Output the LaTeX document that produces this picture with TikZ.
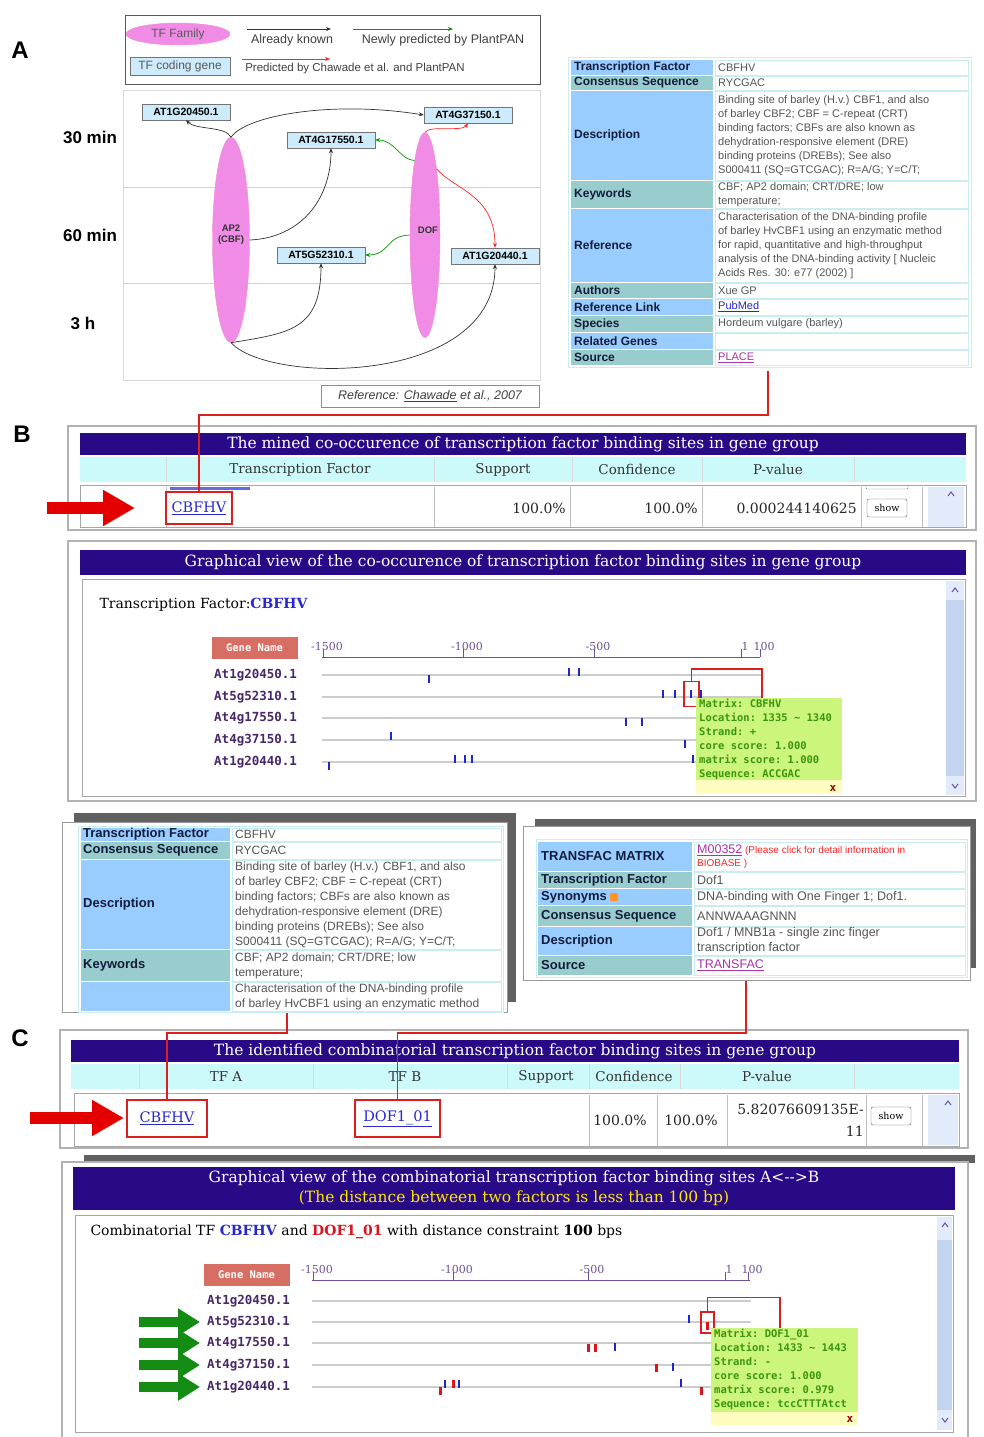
\documentclass[tikz,border=0pt]{standalone}
\usepackage{fontspec}
\setmainfont{DejaVu Serif}
\setsansfont{Liberation Sans}
\setmonofont{DejaVu Sans Mono}
\usetikzlibrary{positioning,calc,arrows.meta,shapes.geometric}
\newcommand{\pxfont}[2]{\fontsize{#1}{#2}\selectfont}
\newcommand{\upchev}[2]{\draw[navy!70, line width=1pt] (#1-3,#2+2) -- (#1,#2-2) -- (#1+3,#2+2);}
\newcommand{\downchev}[2]{\draw[navy!70, line width=1pt] (#1-3,#2-2) -- (#1,#2+2) -- (#1+3,#2-2);}
\definecolor{navy}{RGB}{40,10,135}
\definecolor{hdrcyan}{RGB}{204,250,250}
\definecolor{lblblue}{RGB}{153,204,255}
\definecolor{lblteal}{RGB}{153,204,204}
\definecolor{cellline}{RGB}{200,238,242}
\definecolor{lbltext}{RGB}{20,28,60}
\definecolor{valtext}{RGB}{85,85,85}
\definecolor{linkblue}{RGB}{40,40,210}
\definecolor{linkpurple}{RGB}{170,50,170}
\definecolor{salmon}{RGB}{214,110,100}
\definecolor{popgreen}{RGB}{204,245,125}
\definecolor{popgrn}{RGB}{60,150,10}
\definecolor{genepurple}{RGB}{72,40,105}
\definecolor{axispurple}{RGB}{110,80,150}
\definecolor{tfpink}{RGB}{240,140,230}
\definecolor{genecyan}{RGB}{205,235,250}
\definecolor{arrgreen}{RGB}{20,140,20}
\definecolor{redline}{RGB}{220,30,30}
\definecolor{tickblue}{RGB}{30,40,200}
\definecolor{tickred}{RGB}{220,20,30}
\definecolor{scrollbg}{RGB}{225,235,250}
\definecolor{scrollthumb}{RGB}{195,212,240}
\tikzset{panellbl/.style={font=\sffamily\bfseries\pxfont{24}{24}}}
\tikzset{timelbl/.style={font=\sffamily\bfseries\pxfont{17}{17}}}
\tikzset{legtxt/.style={font=\sffamily\pxfont{12.5}{13}, text=black!75}}
\tikzset{tffam/.style={ellipse, fill=tfpink, draw=magenta!45, inner sep=0pt}}
\tikzset{fam/.style={font=\sffamily\bfseries\pxfont{9.5}{11}, align=center, text=black!80}}
\tikzset{genebox/.style={draw=black!55, fill=genecyan, font=\sffamily\bfseries\pxfont{10.5}{11}, inner sep=1pt, minimum width=88, minimum height=16}}
\tikzset{known/.style={draw=black!80, line width=0.7pt, -{Stealth[length=5pt,width=4pt]}}}
\tikzset{newpred/.style={known, draw=green!60!black}}
\tikzset{bothpred/.style={known, draw=red!85}}
\tikzset{lbl/.style={anchor=west, inner sep=0pt, font=\sffamily\bfseries\pxfont{12}{12}, text=lbltext}}
\tikzset{val/.style={anchor=west, inner sep=0pt, align=left, font=\sffamily\pxfont{11}{14}, text=valtext}}
\tikzset{frm/.style={draw=black!30, line width=1.2pt}}
\tikzset{hdrtxt/.style={text=white, font=\pxfont{15.5}{20}, align=center}}
\tikzset{colhdr/.style={font=\pxfont{13.5}{14}, text=black!80}}
\tikzset{datatxt/.style={font=\pxfont{14}{15}, text=black!85, inner sep=0pt}}
\tikzset{tflink/.style={font=\pxfont{14.5}{15}, text=linkblue}}
\tikzset{redlink/.style={draw=redline, line width=1.2pt}}
\tikzset{redbox/.style={draw=redline, line width=1.2pt, inner sep=0pt}}
\tikzset{showbtn/.style={draw=black!65, rounded corners=2pt, fill=white, font=\pxfont{9.5}{10}, minimum width=40, minimum height=18, inner sep=0pt}}
\tikzset{namebox/.style={fill=salmon, text=white, font=\ttfamily\bfseries\pxfont{10.5}{11}, minimum width=86, minimum height=22, inner sep=0pt}}
\tikzset{genename/.style={anchor=west, inner sep=0pt, font=\ttfamily\bfseries\pxfont{12.5}{13}, text=genepurple}}
\tikzset{geneline/.style={draw=black!20, line width=2pt}}
\tikzset{axisline/.style={draw=axispurple, line width=1pt}}
\tikzset{axistxt/.style={font=\pxfont{11}{11}, text=axispurple, inner sep=0pt}}
\tikzset{popbox/.style={fill=popgreen, inner sep=0pt}}
\tikzset{poptxt/.style={anchor=north west, align=left, inner sep=0pt, font=\ttfamily\bfseries\pxfont{10.5}{14}, text=popgrn}}
\tikzset{closex/.style={font=\ttfamily\bfseries\pxfont{11}{11}, text=red!60!black, inner sep=0pt}}
\tikzset{fatred/.style={draw=red!90!black, line width=12pt, -{Triangle[length=32pt,width=34pt]}}}
\tikzset{fatgreen/.style={draw=arrgreen, line width=10pt, -{Triangle[length=22pt,width=26pt]}}}

\begin{document}
\begin{tikzpicture}[x=1pt,y=-1pt]
\useasboundingbox (0,0) rectangle (983,1437);
% ---------- panel A: legend
\node[panellbl] (labA) at (20,50) {A};
\draw[black!65, fill=white] (125,15) rectangle (540,84);
\node[tffam, minimum width=104, minimum height=22, font=\sffamily\pxfont{12}{12}, text=black!65] (legfam) at (178,34) {TF Family};
\node[genebox, minimum width=100, minimum height=18, font=\sffamily\pxfont{12}{12}, text=black!65] (leggene) at (180,66) {TF coding gene};
\coordinate (lk1) at (247,29); \coordinate (lk2) at (331,29);
\coordinate (lg1) at (353,29); \coordinate (lg2) at (453,29);
\coordinate (lr1) at (242,59); \coordinate (lr2) at (330,59);
\draw[known] (lk1) -- (lk2);
\draw[newpred] (lg1) -- (lg2);
\draw[bothpred] (lr1) -- (lr2);
\node[legtxt] (legknown) at (292,40) {Already known};
\node[legtxt] (legnew) at (443,40) {Newly predicted by PlantPAN};
\node[legtxt, font=\sffamily\pxfont{11.5}{12}] (legboth) at (355,69) {Predicted by Chawade et al. and PlantPAN};
% ---------- panel A: network
\draw[black!15, fill=white] (123,90) rectangle (540,380);
\draw[black!18] (123,187) -- (540,187) (123,283) -- (540,283);
\node[timelbl] (t30) at (90,137) {30 min};
\node[timelbl] (t60) at (90,235) {60 min};
\node[timelbl] (t3h) at (83,323) {3 h};
\node[tffam, minimum width=37, minimum height=205] (ap2) at (231,240) {};
\node[tffam, minimum width=30, minimum height=205] (dof) at (425,235) {};
\node[fam] (ap2lbl) at (231,235) {AP2\\(CBF)};
\node[fam] (doflbl) at (428,230) {DOF};
\node[genebox] (g20450) at (186,112) {AT1G20450.1};
\node[genebox] (g37150) at (468,115) {AT4G37150.1};
\node[genebox] (g17550) at (331,140) {AT4G17550.1};
\node[genebox] (g52310) at (321,255) {AT5G52310.1};
\node[genebox] (g20440) at (495,256) {AT1G20440.1};
%
\draw[known] (ap2.north) .. controls (226,126) and (196,130) .. (g20450.south);
\draw[known] (ap2.north) .. controls (245,116) and (330,100) .. (g37150.west);
\draw[known] (ap2.east) .. controls (300,238) and (331,200) .. (g17550.south);
\draw[known] (ap2.south) .. controls (290,333) and (321,330) .. (g52310.south);
\draw[known] (ap2.south) .. controls (270,385) and (495,385) .. (g20440.south);
\draw[newpred] (dof.98) .. controls (400,160) and (395,140) .. (g17550.east);
\draw[newpred] (dof.west) .. controls (385,236) and (390,255) .. (g52310.east);
\draw[bothpred] (dof.north) .. controls (430,125) and (462,132) .. (g37150.south);
\draw[bothpred] (dof.80) .. controls (455,190) and (495,195) .. (g20440.north);
\node[draw=black!45, minimum width=218, minimum height=22, font=\sffamily\itshape\pxfont{12.5}{13}, text=black!75] (refA) at (430,396) {Reference: \underline{Chawade} et al., 2007};
% ---------- panel A: matrix table
\draw[cellline, fill=white] (568,57) rectangle (971,367);
\foreach \ya/\yb/\col/\lab [count=\idx] in {60/75/lblblue/Transcription Factor, 76/90/lblteal/Consensus Sequence, 91/180/lblblue/Description, 181/208/lblteal/Keywords, 209/282/lblblue/Reference, 283/298/lblteal/Authors, 299/315/lblblue/Reference Link, 316/332/lblteal/Species, 333/349/lblblue/Related Genes, 350/365/lblteal/Source}
{
  \fill[\col] (571,\ya) rectangle (713,\yb);
  \draw[cellline] (715,\ya) rectangle (968,\yb);
  \node[lbl] (tA\idx) at (574,{(\ya+\yb)/2}) {\lab};
}
\node[val] (vA1) at (718,67.5) {CBFHV};
\node[val] (vA2) at (718,83) {RYCGAC};
\node[val] (vA3) at (718,135.5) {Binding site of barley (H.v.) CBF1, and also\\of barley CBF2; CBF = C-repeat (CRT)\\binding factors; CBFs are also known as\\dehydration-responsive element (DRE)\\binding proteins (DREBs); See also\\S000411 (SQ=GTCGAC); R=A/G; Y=C/T;};
\node[val] (vA4) at (718,194.5) {CBF; AP2 domain; CRT/DRE; low\\temperature;};
\node[val] (vA5) at (718,245.5) {Characterisation of the DNA-binding profile\\of barley HvCBF1 using an enzymatic method\\for rapid, quantitative and high-throughput\\analysis of the DNA-binding activity [ Nucleic\\Acids Res. 30: e77 (2002) ]};
\node[val] (vA6) at (718,290.5) {Xue GP};
\node[val, text=linkblue] (vA7) at (718,307) {\underline{PubMed}};
\node[val] (vA8) at (718,324) {Hordeum vulgare (barley)};
\node[val, text=linkpurple] (vA10) at (718,357.5) {\underline{PLACE}};
% ---------- panel B: table
\node[panellbl] (labB) at (22,434) {B};
\draw[frm] (68,426) rectangle (976,530);
\fill[navy] (80,433) rectangle (966,455);
\node[hdrtxt] (hdrB) at (523,444) {The mined co-occurence of transcription factor binding sites in gene group};
\fill[hdrcyan] (80,457) rectangle (966,482);
\foreach \x in {166,434,572,702,854} \draw[black!15] (\x,457) -- (\x,482);
\node[colhdr] (chB1) at (300,469.5) {Transcription Factor};
\node[colhdr] (chB2) at (503,469.5) {Support};
\node[colhdr] (chB3) at (637,469.5) {Confidence};
\node[colhdr] (chB4) at (778,469.5) {P-value};
\draw[black!35, fill=white] (80,485) rectangle (966,527);
\foreach \x in {166,434,570,702,861,922} \draw[black!25] (\x,487) -- (\x,527);
\fill[scrollbg] (928,487) rectangle (964,527);
\upchev{951}{494}
\fill[linkblue!70] (170,486.5) rectangle (250,489.5);
\draw[black!50, rounded corners=1pt] (866,485) -- (866,489) -- (908,489) -- (908,485);
\node[datatxt, anchor=east] (supB) at (566,508) {100.0\%};
\node[datatxt, anchor=east] (conB) at (698,508) {100.0\%};
\node[datatxt, anchor=east] (pvB) at (857,508) {0.000244140625};
\node[showbtn] (showB) at (887,508) {show};
\node[redbox, minimum width=66, minimum height=32, tflink] (cbfB) at (199,508) {\underline{CBFHV}};
\coordinate (arBt) at (47,508); \coordinate (arBh) at (135,508);
\draw[fatred] (arBt) -- (arBh);
\coordinate (srcA) at (768,371);
\draw[redlink] (srcA) -- ++(0,44) -| (cbfB.north);
% ---------- panel B: graphical view
\draw[frm] (68,541) rectangle (976,801);
\fill[navy] (80,550) rectangle (966,575);
\node[hdrtxt] (hdrBg) at (523,562) {Graphical view of the co-occurence of transcription factor binding sites in gene group};
\draw[black!35, fill=white] (82,579) rectangle (965,796);
\fill[scrollbg] (946,581) rectangle (964,795);
\fill[scrollthumb] (946,600) rectangle (964,776);
\upchev{955}{590} \downchev{955}{786}
\node[anchor=west, font=\pxfont{14}{15}] (tfB) at (96,605) {Transcription Factor:\textcolor{linkblue}{\textbf{CBFHV}}};
\node[namebox] (gnB) at (254.5,647.5) {Gene Name};
\coordinate (axB0) at (322,657); \coordinate (axB1) at (760,657);
\draw[axisline] (axB0) -- (axB1);
\foreach \x/\lb [count=\idx] in {323/-1500,463/-1000,594/-500,741/1,760/100}
{ \draw[axisline] (\x,649) -- (\x,657); \node[axistxt] (axlB\idx) at (\x+4,646) {\lb}; }
\foreach \gn/\y [count=\idx] in {At1g20450.1/675, At5g52310.1/697, At4g17550.1/718, At4g37150.1/740, At1g20440.1/762}
{ \draw[geneline] (322,\y) -- (763,\y); \node[genename] (gB\idx) at (214,\y) {\gn}; }
\foreach \x/\y in {429/679, 569/672, 579/672, 663/694, 675/694, 691/694, 701/694, 626/722, 642/722, 391/736, 685/744, 329/766, 455/759, 465/759, 472/759, 693/759}
  \fill[tickblue] (\x-1.2,\y-4) rectangle (\x+1.2,\y+4);
\node[redbox, minimum width=15, minimum height=25] (siteB) at (691.5,694) {};
\node[popbox, minimum width=146, minimum height=95, anchor=north west] (popB) at (696,698) {};
\fill[yellow!25] ($(popB.south west)+(0,-13)$) rectangle (popB.south east);
\node[poptxt] (txtB) at (699,699) {Matrix: CBFHV\\Location: 1335 \textasciitilde{} 1340\\Strand: +\\core score: 1.000\\matrix score: 1.000\\Sequence: ACCGAC};
\node[closex] (xB) at (833,788) {x};
\draw[redlink] (siteB.north) -- ++(0,-12) -| ($(popB.north west)+(66,0)$);
% ---------- panel C: detail tables
\fill[black!62] (74,813) rectangle (516,1002);
\draw[black!40, fill=white] (62,822) rectangle (507,1012);
\draw[cellline] (78,826) rectangle (503,1012);
\foreach \ya/\yb/\col/\lab [count=\idx] in {828/841/lblblue/Transcription Factor, 842/859/lblteal/Consensus Sequence, 860/949/lblblue/Description, 950/981/lblteal/Keywords, 982/1011/lblblue/{}}
{
  \fill[\col] (81,\ya) rectangle (230,\yb);
  \draw[cellline] (232,\ya) rectangle (501,\yb);
  \node[lbl, font=\sffamily\bfseries\pxfont{13}{13}] (tL\idx) at (83,{(\ya+\yb)/2}) {\lab};
}
\node[val, font=\sffamily\pxfont{12}{15}] (vL1) at (235,834.5) {CBFHV};
\node[val, font=\sffamily\pxfont{12}{15}] (vL2) at (235,850.5) {RYCGAC};
\node[val, font=\sffamily\pxfont{12}{15}] (vL3) at (235,904.5) {Binding site of barley (H.v.) CBF1, and also\\of barley CBF2; CBF = C-repeat (CRT)\\binding factors; CBFs are also known as\\dehydration-responsive element (DRE)\\binding proteins (DREBs); See also\\S000411 (SQ=GTCGAC); R=A/G; Y=C/T;};
\node[val, font=\sffamily\pxfont{12}{15}] (vL4) at (235,965.5) {CBF; AP2 domain; CRT/DRE; low\\temperature;};
\node[val, font=\sffamily\pxfont{12}{15}] (vL5) at (235,997) {Characterisation of the DNA-binding profile\\of barley HvCBF1 using an enzymatic method};
%
\fill[black!62] (535,819) rectangle (976,968);
\draw[black!40, fill=white] (523,826) rectangle (970,980);
\draw[cellline] (536,839) rectangle (967,977);
\foreach \ya/\yb/\col/\lab [count=\idx] in {842/871/lblblue/TRANSFAC MATRIX, 872/888/lblteal/Transcription Factor, 889/905/lblblue/Synonyms, 906/926/lblteal/Consensus Sequence, 927/955/lblblue/Description, 956/975/lblteal/Source}
{
  \fill[\col] (538,\ya) rectangle (692,\yb);
  \draw[cellline] (694,\ya) rectangle (965,\yb);
  \node[lbl, font=\sffamily\bfseries\pxfont{13}{13}] (tR\idx) at (541,{(\ya+\yb)/2}) {\lab};
}
\fill[orange!85, rounded corners=1pt] (610,893) rectangle (618,901);
\node[val, font=\sffamily\pxfont{10}{13}, text=red!85] (vR1) at (697,856.5) {\textcolor{linkpurple}{\pxfont{12.5}{13}\underline{M00352}} (Please click for detail information in\\BIOBASE )};
\node[val, font=\sffamily\pxfont{12.5}{15}] (vR2) at (697,880) {Dof1};
\node[val, font=\sffamily\pxfont{12.5}{15}] (vR3) at (697,897) {DNA-binding with One Finger 1; Dof1.};
\node[val, font=\sffamily\pxfont{12.5}{15}] (vR4) at (697,916) {ANNWAAAGNNN};
\node[val, font=\sffamily\pxfont{12.5}{15}] (vR5) at (697,941) {Dof1 / MNB1a - single zinc finger\\transcription factor};
\node[val, font=\sffamily\pxfont{12.5}{15}, text=linkpurple] (vR6) at (697,965.5) {\underline{TRANSFAC}};
% ---------- panel C: table
\node[panellbl] (labC) at (20,1038) {C};
\draw[frm] (60,1030) rectangle (968,1148);
\fill[navy] (71,1040) rectangle (959,1062);
\node[hdrtxt] (hdrC) at (515,1051) {The identified combinatorial transcription factor binding sites in gene group};
\fill[hdrcyan] (71,1064) rectangle (959,1089);
\foreach \x in {139,313,507,589,680,854} \draw[black!15] (\x,1064) -- (\x,1089);
\node[colhdr] (chC1) at (226,1076.5) {TF A};
\node[colhdr] (chC2) at (405,1076.5) {TF B};
\node[colhdr] (chC3) at (546,1076.5) {Support};
\node[colhdr] (chC4) at (634,1076.5) {Confidence};
\node[colhdr] (chC5) at (767,1076.5) {P-value};
\draw[black!35, fill=white] (74,1093) rectangle (959,1146);
\foreach \x in {589,657,727,866,922} \draw[black!25] (\x,1095) -- (\x,1146);
\fill[scrollbg] (928,1095) rectangle (958,1145);
\upchev{948}{1103}
\node[datatxt] (supC) at (620,1120) {100.0\%};
\node[datatxt] (conC) at (691,1120) {100.0\%};
\node[datatxt, anchor=east] (pvC1) at (864,1109) {5.82076609135E-};
\node[datatxt, anchor=east] (pvC2) at (864,1131) {11};
\node[showbtn] (showC) at (891,1116) {show};
\node[redbox, minimum width=80, minimum height=37, tflink] (cbfC) at (167,1118.5) {\underline{CBFHV}};
\node[redbox, minimum width=85, minimum height=37, tflink] (dofC) at (397.5,1118.5) {\underline{DOF1\_01}};
\coordinate (arCt) at (30,1118); \coordinate (arCh) at (124,1118);
\draw[fatred] (arCt) -- (arCh);
\coordinate (srcCL) at (287,1013);
\coordinate (srcCR) at (746,981);
\draw[redlink] (srcCL) -- ++(0,20) -| (cbfC.north);
\draw[redlink] (srcCR) -- ++(0,52) -| (dofC.north);
% ---------- panel C: graphical view
\fill[black!62] (84,1155) rectangle (975,1163);
\draw[frm] (62,1162) rectangle (968,1442);
\fill[navy] (73,1167) rectangle (955,1210);
\node[hdrtxt] (hdrCg) at (514,1188.5) {Graphical view of the combinatorial transcription factor binding sites A<-{}->B\\\textcolor{yellow!90!orange}{(The distance between two factors is less than 100 bp)}};
\draw[black!35, fill=white] (75,1215) rectangle (953,1432);
\fill[scrollbg] (937,1217) rectangle (952,1430);
\fill[scrollthumb] (937,1240) rectangle (952,1410);
\upchev{945}{1225} \downchev{945}{1420}
\node[anchor=west, font=\pxfont{14}{15}] (tfC) at (87,1232) {Combinatorial TF \textcolor{linkblue}{\textbf{CBFHV}} and \textcolor{tickred}{\textbf{DOF1\_01}} with distance constraint \textbf{100} bps};
\node[namebox] (gnC) at (246.5,1274.5) {Gene Name};
\coordinate (axC0) at (312,1280); \coordinate (axC1) at (750,1280);
\draw[axisline] (axC0) -- (axC1);
\foreach \x/\lb [count=\idx] in {313/-1500,453/-1000,588/-500,725/1,748/100}
{ \draw[axisline] (\x,1272) -- (\x,1280); \node[axistxt] (axlC\idx) at (\x+4,1269) {\lb}; }
\foreach \gn/\y [count=\idx] in {At1g20450.1/1301, At5g52310.1/1322, At4g17550.1/1343, At4g37150.1/1365, At1g20440.1/1387}
{ \draw[geneline] (312,\y) -- (751,\y); \node[genename] (gC\idx) at (207,\y) {\gn}; }
\foreach \idx in {2,...,5}
  \draw[fatgreen] ($(gC\idx.west)+(-68,0)$) -- ($(gC\idx.west)+(-7,0)$);
\foreach \x/\y in {689/1319, 615/1347, 673/1367, 445/1384, 459/1384, 681/1383}
  \fill[tickblue] (\x-1.2,\y-4) rectangle (\x+1.2,\y+4);
\foreach \x/\y in {707/1326, 588/1348, 595/1348, 656/1368, 440/1391, 453/1384, 701/1391}
  \fill[tickred] (\x-1.5,\y-4) rectangle (\x+1.5,\y+4);
\node[redbox, minimum width=13, minimum height=21] (siteC) at (707.5,1322.5) {};
\node[popbox, minimum width=147, minimum height=97, anchor=north west] (popC) at (711,1328) {};
\fill[yellow!25] ($(popC.south west)+(0,-13)$) rectangle (popC.south east);
\node[poptxt] (txtC) at (714,1329) {Matrix: DOF1\_01\\Location: 1433 \textasciitilde{} 1443\\Strand: -\\core score: 1.000\\matrix score: 0.979\\Sequence: tccCTTTAtct};
\node[closex] (xC) at (850,1419) {x};
\draw[redlink] (siteC.north) -- ++(0,-14) -| ($(popC.north west)+(69,0)$);
\end{tikzpicture}
\end{document}
